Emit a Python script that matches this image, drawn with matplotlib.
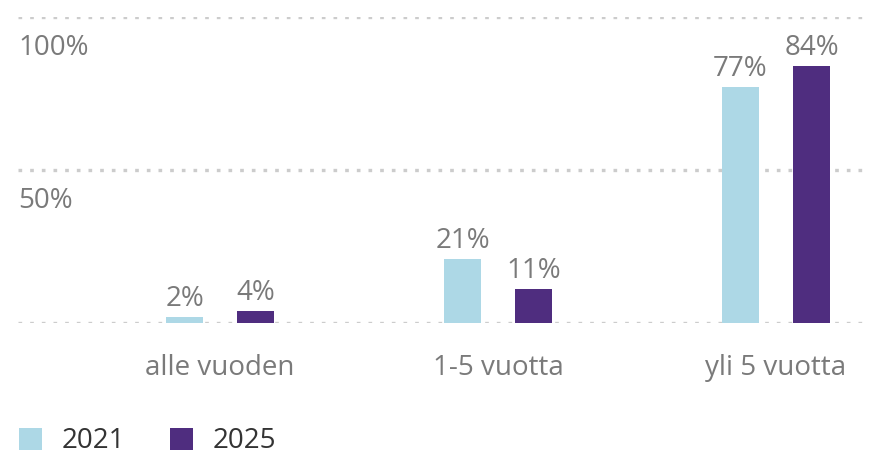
import numpy as np
import matplotlib.pyplot as plt
from matplotlib.patches import Patch

categories = ["alle vuoden", "1-5 vuotta", "yli 5 vuotta"]
values_2021 = [2, 21, 77]
values_2025 = [4, 11, 84]
series_names = ["2021", "2025"]
y_ticks = [0, 50, 100]
y_tick_labels = ["", "50%", "100%"]

c_light = "#add8e6"
c_dark = "#4f2d7f"
grey = "#7a7a7a"
fs = 20

plt.rcParams['font.family'] = ['Open Sans', 'DejaVu Sans']

fig = plt.figure(figsize=(8.81, 4.54), dpi=100)
ax = fig.add_axes([18 / 881, (454 - 323) / 454, (870 - 18) / 881, 306 / 454])

x = np.arange(len(categories))
w = 0.133
off = 0.128
b1 = ax.bar(x - off, values_2021, w, color=c_light)
b2 = ax.bar(x + off, values_2025, w, color=c_dark)

for bars, vals in ((b1, values_2021), (b2, values_2025)):
    for r, v in zip(bars, vals):
        ax.annotate(f"{v}%", (r.get_x() + r.get_width() / 2, v),
                    xytext=(0, 3), textcoords="offset points",
                    ha="center", va="bottom", fontsize=fs, color=grey)

for t in y_ticks:
    ax.axhline(t, color="#cccccc", lw=2.4, ls=(0, (1.1, 2.4)), zorder=0)
for t, lab in zip(y_ticks, y_tick_labels):
    if lab:
        ax.annotate(lab, (0, t), xycoords=("axes fraction", "data"),
                    xytext=(0, -12.5), textcoords="offset points",
                    ha="left", va="top", fontsize=fs, color=grey)

ax.set_xlim(-0.727, 2.338)
ax.set_ylim(0, 100)
ax.set_xticks(x)
ax.set_xticklabels(categories, fontsize=fs, color=grey)
ax.tick_params(axis="x", length=0, pad=22)
ax.set_yticks([])
for s in ax.spines.values():
    s.set_visible(False)

handles = [Patch(facecolor=c_light), Patch(facecolor=c_dark)]
fig.legend(handles, series_names, loc="lower left", bbox_to_anchor=(-0.007, -0.058),
           ncol=2, frameon=False, fontsize=fs, handlelength=0.85, handleheight=0.85,
           handletextpad=0.7, columnspacing=1.6, labelcolor="#333333")

fig.savefig("out.png", dpi=100)
